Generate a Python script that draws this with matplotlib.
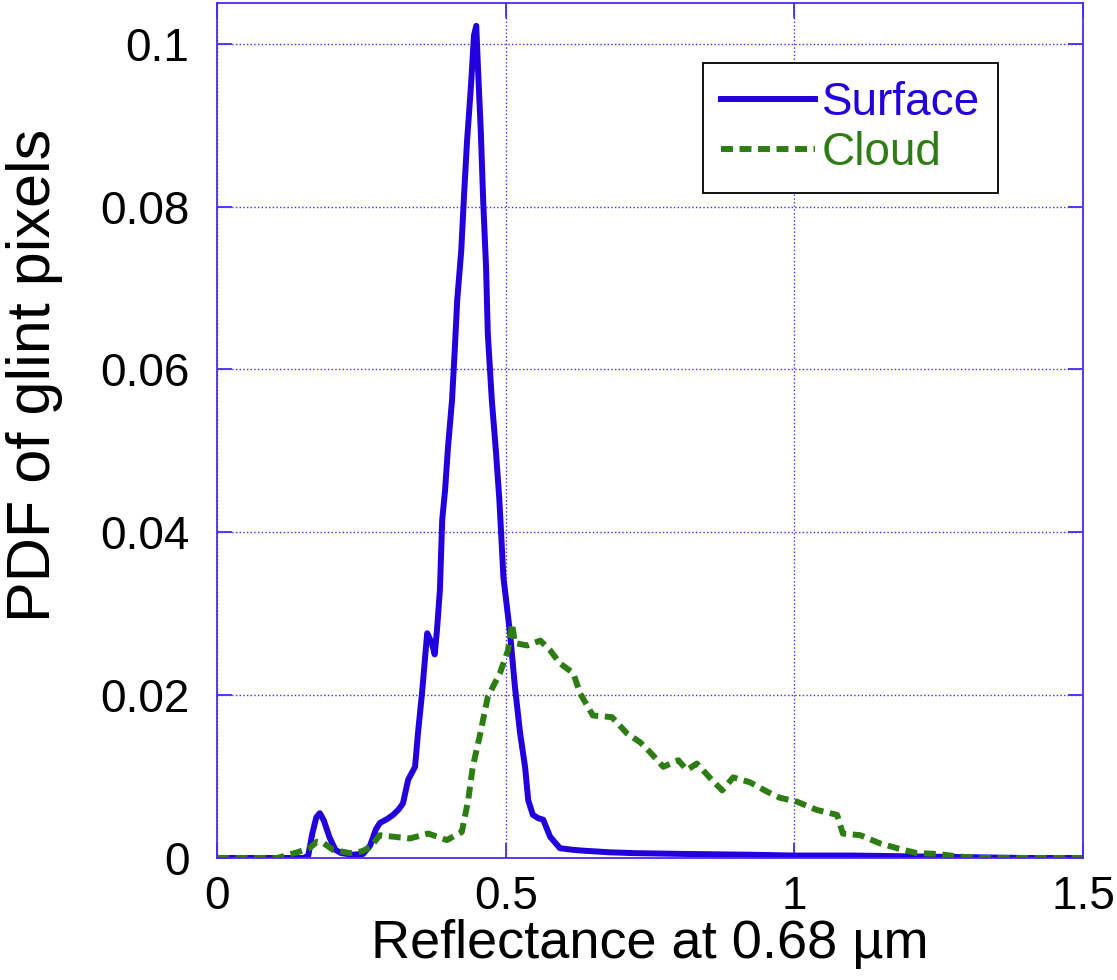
import matplotlib
matplotlib.use("Agg")
import matplotlib.pyplot as plt
from matplotlib.ticker import FixedLocator, FuncFormatter

plt.rcParams['font.family'] = ['Liberation Sans', 'DejaVu Sans']

# reflectance / PDF samples for sun-glint pixels
surface_x = [0.00, 0.10, 0.15, 0.158, 0.165, 0.172, 0.178, 0.185, 0.195, 0.205,
             0.215, 0.235, 0.253, 0.265, 0.275, 0.282, 0.295, 0.305, 0.315, 0.322,
             0.331, 0.343, 0.348, 0.355, 0.364, 0.372, 0.377, 0.381, 0.386, 0.390,
             0.395, 0.400, 0.407, 0.412, 0.416, 0.423, 0.428, 0.433, 0.440, 0.445,
             0.449, 0.452, 0.457, 0.461, 0.466, 0.469, 0.476, 0.483, 0.489, 0.492,
             0.496, 0.5075, 0.516, 0.525, 0.5335, 0.539, 0.547, 0.556, 0.565, 0.577,
             0.594, 0.617, 0.634, 0.680, 0.721, 0.807, 0.923, 1.00, 1.10, 1.20,
             1.30, 1.40, 1.50]
surface_y = [0.0, 0.0, 0.0, 0.0003, 0.003, 0.0050, 0.0055, 0.0046, 0.0025, 0.0010,
             0.0006, 0.0004, 0.0005, 0.0015, 0.0035, 0.0043, 0.0048, 0.0053, 0.0060, 0.0067,
             0.0096, 0.0112, 0.0153, 0.0202, 0.0276, 0.0264, 0.0250, 0.0280, 0.0329, 0.0415,
             0.0452, 0.0504, 0.0562, 0.0627, 0.0685, 0.0746, 0.0816, 0.0880, 0.0950, 0.1010,
             0.1022, 0.0970, 0.0890, 0.0807, 0.0725, 0.0644, 0.0562, 0.0500, 0.0440, 0.0400,
             0.0345, 0.0276, 0.0210, 0.0153, 0.0112, 0.0071, 0.0053, 0.0049, 0.0047, 0.0026,
             0.0012, 0.0010, 0.0009, 0.0007, 0.0006, 0.0005, 0.0004, 0.0003, 0.0003, 0.0002,
             0.0001, 0.0, 0.0]

cloud_x = [0.00, 0.104, 0.139, 0.160, 0.173, 0.185, 0.201, 0.230, 0.250, 0.265,
           0.282, 0.294, 0.334, 0.366, 0.398, 0.424, 0.435, 0.443, 0.456, 0.469,
           0.490, 0.504, 0.511, 0.516, 0.537, 0.560, 0.577, 0.594, 0.617, 0.629,
           0.651, 0.684, 0.710, 0.733, 0.750, 0.773, 0.799, 0.814, 0.831, 0.857,
           0.875, 0.894, 0.923, 0.954, 0.975, 1.005, 1.039, 1.074, 1.084, 1.114,
           1.148, 1.178, 1.212, 1.247, 1.282, 1.32, 1.50]
cloud_y = [0.0, 0.0, 0.0007, 0.0012, 0.0020, 0.0018, 0.0010, 0.0006, 0.0008, 0.0013,
           0.0028, 0.0027, 0.0024, 0.0030, 0.0022, 0.0032, 0.0071, 0.0112, 0.0153, 0.0198,
           0.0227, 0.0255, 0.0288, 0.0264, 0.0261, 0.0267, 0.0255, 0.0239, 0.0227, 0.0202,
           0.0175, 0.0173, 0.0153, 0.0142, 0.0130, 0.0112, 0.0120, 0.0108, 0.0116, 0.0096,
           0.0083, 0.0099, 0.0093, 0.0081, 0.0074, 0.0069, 0.0059, 0.0053, 0.0030, 0.0028,
           0.0018, 0.0012, 0.0006, 0.0005, 0.0002, 0.0, 0.0]

x_ticks = [0, 0.5, 1, 1.5]
y_ticks = [0, 0.02, 0.04, 0.06, 0.08, 0.1]

blue = '#2200DD'
green = '#2E7D14'
axis_blue = '#4A2BF0'

fig = plt.figure(figsize=(11.17, 9.8), dpi=100)
ax = fig.add_axes([0.1943, 0.1245, 0.7753, 0.8724])

ax.plot(surface_x, surface_y, color=blue, lw=4.3, label='Surface')
ax.plot(cloud_x, cloud_y, color=green, lw=4.3, dashes=(2.0, 1.1), label='Cloud')

ax.set_xlim(0, 1.5)
ax.set_ylim(0, 0.105)
ax.xaxis.set_major_locator(FixedLocator(x_ticks))
ax.yaxis.set_major_locator(FixedLocator(y_ticks))
ax.xaxis.set_major_formatter(FuncFormatter(lambda v, p: '%g' % v))
ax.yaxis.set_major_formatter(FuncFormatter(lambda v, p: '%g' % v))

ax.grid(True, linestyle=':', color=axis_blue, lw=1.0)
for s in ax.spines.values():
    s.set_color(axis_blue)
    s.set_linewidth(1.3)
ax.tick_params(direction='in', length=11, width=1.3, color=axis_blue,
               labelsize=33, top=True, right=True, pad=12)
ax.tick_params(axis='y', pad=20)

ax.set_xlabel('Reflectance at 0.68 µm', fontsize=39, labelpad=0)
ax.set_ylabel('PDF of glint pixels', fontsize=44)
ax.yaxis.set_label_coords(-0.178, 0.565)

leg = ax.legend(loc='upper right', bbox_to_anchor=(0.902, 0.930), fontsize=33,
                handlelength=2.05, handletextpad=0.15, borderpad=0.4,
                labelspacing=0.12, borderaxespad=0, fancybox=False, framealpha=1)
leg.get_frame().set_edgecolor('black')
leg.get_frame().set_linewidth(1.3)
for txt, c in zip(leg.get_texts(), [blue, green]):
    txt.set_color(c)

fig.savefig('out.png', dpi=100)
